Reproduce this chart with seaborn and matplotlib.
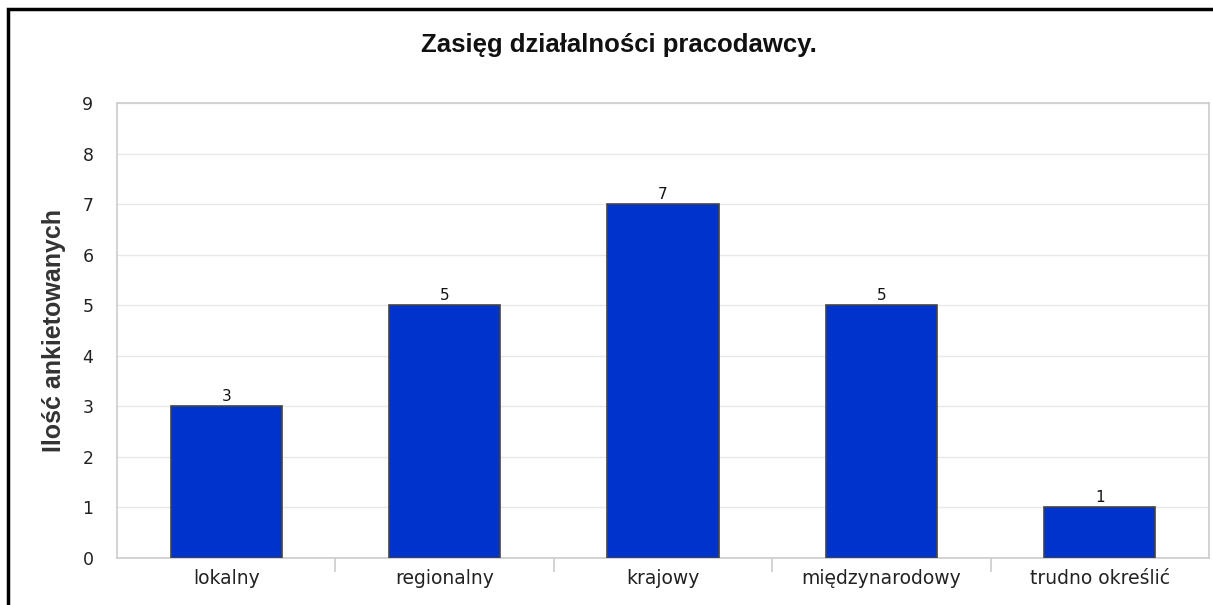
import matplotlib
matplotlib.use("Agg")
import matplotlib.pyplot as plt
import seaborn as sns
import pandas as pd
from matplotlib.patches import Rectangle

categories = ["lokalny", "regionalny", "krajowy", "międzynarodowy", "trudno określić"]
values = [3, 5, 7, 5, 1]
title = "Zasięg działalności pracodawcy."
ylabel = "Ilość ankietowanych"

sns.set_style("white")
plt.rcParams['font.family'] = ['DejaVu Sans']
narrow = ['Liberation Sans Narrow', 'Liberation Sans', 'DejaVu Sans']

df = pd.DataFrame({"cat": categories, "val": values})

fig = plt.figure(figsize=(12.13, 6.05), dpi=100)
ax = fig.add_axes([117/1213, 1-558/605, (1209-117)/1213, (558-103)/605])

sns.barplot(data=df, x="cat", y="val", ax=ax, color="#0033CC", saturation=1,
            width=0.51, edgecolor="#444444", linewidth=1.2, zorder=3)

ax.set_ylim(0, 9)
ax.set_xlim(-0.5, len(categories) - 0.5)
ax.set_yticks(range(0, 10))
ax.yaxis.grid(True, color="#e8e8e8", linewidth=1, zorder=0)
ax.set_axisbelow(True)
for s in ax.spines.values():
    s.set_color("#cccccc")
    s.set_linewidth(1.2)
ax.tick_params(axis="y", length=0, pad=17, labelsize=12.5, colors="#222222")
ax.set_xticks(range(len(categories)))
ax.set_xticklabels(categories, fontsize=13.5, color="#222222")
ax.tick_params(axis="x", which="major", length=0, pad=8)
# boundary ticks
ax.set_xticks([i + 0.5 for i in range(len(categories) - 1)], minor=True)
ax.tick_params(axis="x", which="minor", bottom=True, length=10, color="#cccccc", width=1.2)
ax.set_xlabel("")
ax.set_ylabel(ylabel, fontsize=18, fontweight="bold", color="#333333", labelpad=12,
              family=narrow)

for i, v in enumerate(values):
    ax.text(i, v + 0.05, str(v), ha="center", va="bottom", fontsize=11, color="#111111")

fig.text(619/1213, 1-45/605, title, ha="center", va="center", fontsize=18.5,
         fontweight="bold", color="#111111", family=narrow)

fig.patches.append(Rectangle((8/1213, -0.1), 1.2, 1 - 9/605 + 0.1, transform=fig.transFigure,
                             fill=False, edgecolor="black", linewidth=2.5))

fig.savefig("out.png", dpi=100)
